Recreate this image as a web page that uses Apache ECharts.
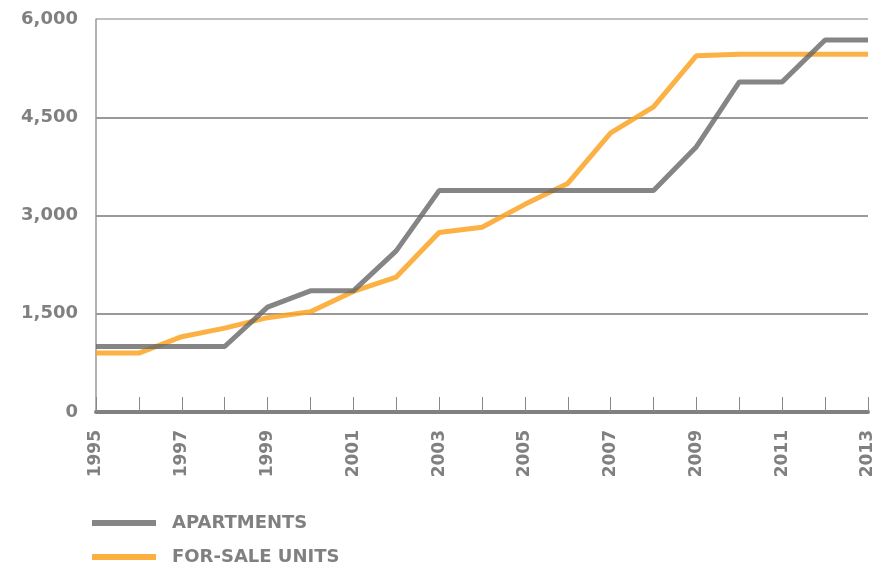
<!DOCTYPE html>
<html style="height: 100%">
<head>
    <meta charset="utf-8">
    <title>Apartments vs For-Sale Units</title>
    <script src="https://cdn.jsdelivr.net/npm/echarts@6/dist/echarts.min.js"></script>
</head>
<body style="height: 100%; margin: 0; background: #fff">
<div id="main" style="width: 881px; height: 568px"></div>

<script type="text/javascript">
    // data
    var years = ['1995', '1996', '1997', '1998', '1999', '2000', '2001', '2002', '2003', '2004',
        '2005', '2006', '2007', '2008', '2009', '2010', '2011', '2012', '2013'];
    var apartments = [1000, 1000, 1000, 1000, 1600, 1850, 1850, 2460, 3380, 3380,
        3380, 3380, 3380, 3380, 4050, 5040, 5040, 5680, 5680];
    var forSaleUnits = [900, 900, 1150, 1280, 1440, 1530, 1840, 2060, 2740, 2820,
        3170, 3490, 4260, 4660, 5440, 5460, 5460, 5460, 5460];
    var yTicks = [0, 1500, 3000, 4500, 6000];

    var grayLine = '#666666';
    var orangeLine = '#fba325';
    var labelColor = '#808080';
    var font = '"DejaVu Sans", "Open Sans", sans-serif';

    var myChart = echarts.init(document.getElementById('main'));

    var option = {
        animation: false,
        grid: {left: 96, right: 13, top: 19, bottom: 156},
        legend: {
            orient: 'vertical',
            left: 92,
            top: 513,
            padding: 0,
            itemWidth: 64,
            itemHeight: 6,
            itemGap: 14,
            icon: 'rect',
            textStyle: {
                color: labelColor,
                fontFamily: font,
                fontWeight: 'bold',
                fontSize: 18,
                lineHeight: 20,
                padding: [0, 0, 0, 11]
            },
            data: [
                {name: 'APARTMENTS', itemStyle: {color: '#858585'}},
                {name: 'FOR-SALE UNITS', itemStyle: {color: '#fbb040'}}
            ]
        },
        xAxis: {
            type: 'category',
            boundaryGap: false,
            data: years,
            axisLine: {lineStyle: {color: '#808080', width: 4}},
            axisTick: {
                show: true,
                inside: true,
                length: 15,
                interval: 0,
                lineStyle: {color: '#888', width: 1}
            },
            axisLabel: {
                interval: 1,
                rotate: 90,
                margin: 18,
                color: labelColor,
                fontFamily: font,
                fontWeight: 'bold',
                fontSize: 17
            },
            splitLine: {show: false}
        },
        yAxis: {
            type: 'value',
            min: yTicks[0],
            max: yTicks[yTicks.length - 1],
            interval: yTicks[1] - yTicks[0],
            axisLine: {show: true, lineStyle: {color: '#999', width: 1.5}},
            axisTick: {show: false},
            axisLabel: {
                margin: 18,
                color: labelColor,
                fontFamily: font,
                fontWeight: 'bold',
                fontSize: 18,
                padding: [0, 0, 6, 0],
                formatter: function (v) {
                    return v.toLocaleString('en-US');
                }
            },
            splitLine: {
                lineStyle: {color: ['#777', '#777', '#777', '#777', '#aaa'], width: 1.5}
            }
        },
        series: [
            {
                name: 'FOR-SALE UNITS',
                type: 'line',
                data: forSaleUnits,
                symbol: 'none',
                lineStyle: {color: orangeLine, width: 5, opacity: 0.85},
                itemStyle: {color: '#fbb040'}
            },
            {
                name: 'APARTMENTS',
                type: 'line',
                data: apartments,
                symbol: 'none',
                lineStyle: {color: grayLine, width: 5, opacity: 0.8},
                itemStyle: {color: '#858585'}
            }
        ]
    };
    myChart.setOption(option, true);
</script>
</body>
</html>
